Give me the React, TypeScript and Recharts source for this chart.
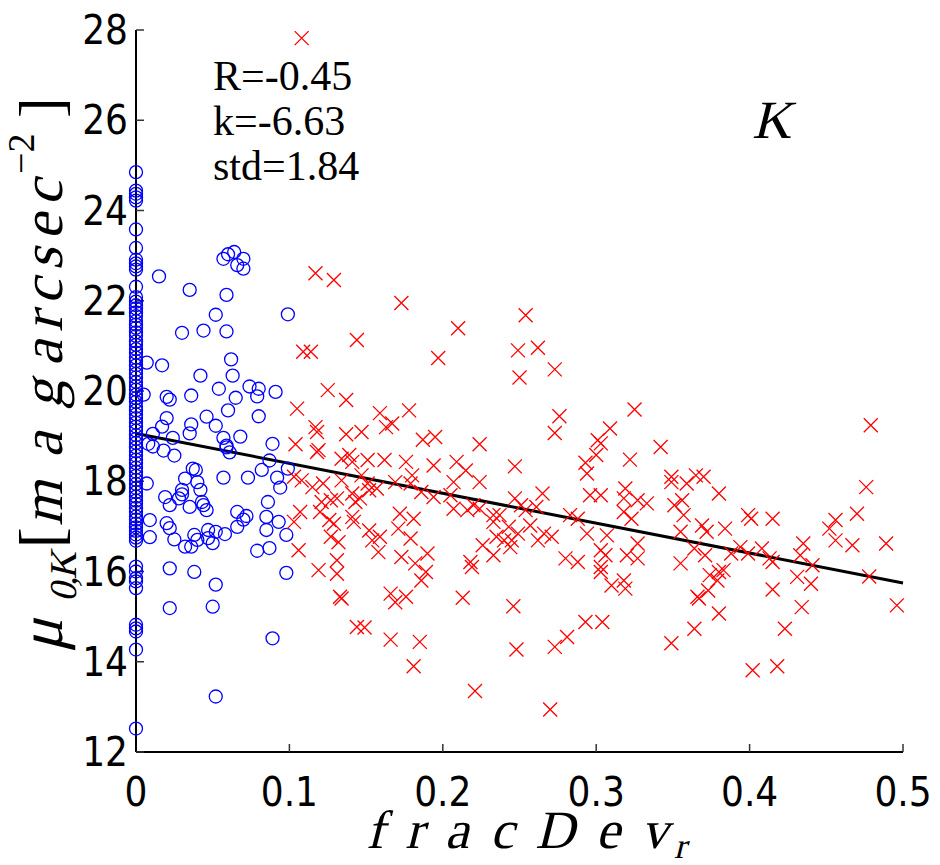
import { ScatterChart, Scatter, XAxis, YAxis, ReferenceLine } from 'recharts';

const xTicks = [0, 0.1, 0.2, 0.3, 0.4, 0.5];
const yTicks = [12, 14, 16, 18, 20, 22, 24, 26, 28];

// pure de Vaucouleurs fits: fracDev_r = 0
const bulgeColumn = [
  24.85, 24.44, 24.37, 24.29, 24.22, 23.58, 23.17, 22.91, 22.83, 22.76, 22.69, 22.31,
  22.08, 21.98, 21.9, 21.83, 21.74, 21.66, 21.55, 21.47, 21.4, 21.3, 21.22, 21.1, 21.02,
  20.93, 20.85, 20.74, 20.66, 20.57, 20.47, 20.38, 20.3, 20.2, 20.11, 20.03, 19.92, 19.84,
  19.76, 19.65, 19.57, 19.48, 19.4, 19.3, 19.21, 19.12, 19.02, 18.94, 18.85, 18.75, 18.66,
  18.57, 18.48, 18.4, 18.3, 18.21, 18.12, 18.03, 17.94, 17.85, 17.76, 17.66, 17.57, 17.5,
  17.41, 17.32, 17.22, 17.15, 17.06, 16.98, 16.9, 16.82, 16.75, 16.68, 16.11, 16.0, 15.85,
  15.78, 15.63, 14.82, 14.74, 14.67, 14.27, 12.52,
];

// fracDev_r < 0.1
const bulgeScatter: [number, number][] = [
  [0.015, 22.54], [0.035, 22.24], [0.059, 22.13], [0.057, 22.93], [0.06, 23.03], [0.064, 23.08],
  [0.066, 22.79], [0.07, 22.93], [0.07, 22.71], [0.052, 21.69], [0.099, 21.7], [0.03, 21.29],
  [0.044, 21.34], [0.059, 21.32], [0.007, 20.63], [0.017, 20.57], [0.062, 20.7], [0.042, 20.34],
  [0.063, 20.34], [0.005, 19.92], [0.02, 19.87], [0.022, 19.81], [0.036, 19.9], [0.054, 20.05],
  [0.065, 19.85], [0.074, 20.1], [0.08, 20.05], [0.079, 19.88], [0.091, 19.98], [0.06, 19.57],
  [0.02, 19.4], [0.046, 19.43], [0.08, 19.44], [0.017, 19.21], [0.036, 19.26], [0.052, 19.23],
  [0.035, 19.06], [0.011, 19.05], [0.024, 18.96], [0.057, 18.96], [0.068, 18.99], [0.008, 18.83],
  [0.059, 18.79], [0.089, 18.83], [0.011, 18.77], [0.018, 18.68], [0.025, 18.57], [0.059, 18.75],
  [0.061, 18.64], [0.037, 18.28], [0.039, 18.25], [0.057, 18.08], [0.073, 18.08], [0.082, 18.25],
  [0.087, 18.46], [0.092, 18.08], [0.094, 17.86], [0.099, 18.28], [0.007, 17.95], [0.032, 18.06],
  [0.03, 17.81], [0.04, 17.98], [0.042, 17.81], [0.019, 17.65], [0.022, 17.47], [0.028, 17.62],
  [0.03, 17.71], [0.035, 17.43], [0.043, 17.54], [0.044, 17.47], [0.046, 17.36], [0.086, 17.54],
  [0.066, 17.32], [0.072, 17.23], [0.07, 17.15], [0.009, 17.14], [0.02, 17.07], [0.022, 16.96],
  [0.085, 17.21], [0.093, 17.1], [0.066, 16.99], [0.085, 16.92], [0.098, 16.81], [0.025, 16.71],
  [0.009, 16.76], [0.038, 16.81], [0.047, 16.92], [0.052, 16.88], [0.058, 16.83], [0.04, 16.7],
  [0.047, 16.74], [0.05, 16.63], [0.032, 16.55], [0.036, 16.55], [0.079, 16.46], [0.087, 16.52],
  [0.022, 16.07], [0.038, 15.99], [0.052, 15.71], [0.098, 15.97], [0.022, 15.19], [0.05, 15.22],
  [0.089, 14.52], [0.052, 13.23],
];

// fracDev_r >= 0.1
const diskScatter: [number, number][] = [
  [0.108, 27.82],
  [0.117, 22.61], [0.129, 22.46], [0.173, 21.95], [0.21, 21.39], [0.144, 21.13], [0.109, 20.87],
  [0.114, 20.87], [0.197, 20.73], [0.125, 20.02], [0.137, 19.8], [0.105, 19.61], [0.159, 19.51],
  [0.178, 19.57], [0.117, 19.2], [0.118, 19.09], [0.137, 19.04], [0.147, 19.09], [0.163, 19.2],
  [0.167, 19.28], [0.187, 18.92], [0.195, 18.98], [0.224, 18.82], [0.104, 18.82], [0.119, 18.69],
  [0.118, 18.65], [0.134, 18.5], [0.139, 18.58], [0.141, 18.43], [0.151, 18.47], [0.162, 18.47],
  [0.176, 18.43], [0.194, 18.35], [0.209, 18.43], [0.215, 18.24], [0.224, 17.98], [0.103, 18.1],
  [0.108, 18.02], [0.115, 17.87], [0.122, 17.95], [0.134, 18.02], [0.147, 18.13], [0.151, 17.95],
  [0.157, 17.84], [0.169, 17.98], [0.18, 18.13], [0.179, 17.95], [0.186, 17.76], [0.194, 17.65],
  [0.207, 17.98], [0.205, 17.69], [0.22, 17.47], [0.207, 17.39], [0.216, 17.36], [0.224, 17.39],
  [0.233, 17.25], [0.107, 17.32], [0.121, 17.54], [0.127, 17.58], [0.131, 17.62], [0.141, 17.73],
  [0.143, 17.54], [0.146, 17.62], [0.152, 17.8], [0.103, 17.1], [0.12, 17.32], [0.126, 17.14],
  [0.129, 17.06], [0.141, 17.21], [0.142, 17.1], [0.152, 16.91], [0.159, 16.77], [0.172, 17.28],
  [0.181, 17.17], [0.171, 16.95], [0.179, 16.73], [0.127, 16.77], [0.132, 16.65], [0.154, 16.69],
  [0.158, 16.43], [0.106, 16.47], [0.173, 16.32], [0.182, 16.18], [0.19, 16.4], [0.189, 15.99],
  [0.186, 15.8], [0.218, 16.21], [0.219, 16.1], [0.226, 16.58], [0.233, 16.36], [0.119, 16.03],
  [0.131, 16.25], [0.131, 15.95], [0.133, 15.44], [0.134, 15.4], [0.166, 15.51], [0.169, 15.32],
  [0.176, 15.44], [0.213, 15.42], [0.144, 14.77], [0.149, 14.76], [0.166, 14.49], [0.185, 14.44],
  [0.181, 13.9], [0.221, 13.35],
  [0.254, 21.68], [0.249, 20.9], [0.262, 20.96], [0.273, 20.48], [0.25, 20.3], [0.276, 19.44],
  [0.273, 19.07], [0.325, 19.59], [0.309, 19.17], [0.301, 18.91], [0.303, 18.84], [0.342, 18.76],
  [0.3, 18.58], [0.322, 18.48], [0.247, 18.33], [0.293, 18.41], [0.294, 18.17], [0.349, 18.1],
  [0.365, 18.13],
  [0.349, 17.98], [0.359, 17.95], [0.247, 17.62], [0.251, 17.47], [0.265, 17.73], [0.261, 17.43],
  [0.296, 17.69], [0.303, 17.69], [0.319, 17.84], [0.318, 17.62], [0.327, 17.58], [0.333, 17.51],
  [0.351, 17.47], [0.356, 17.58], [0.237, 17.25], [0.254, 17.36], [0.257, 17.02], [0.233, 17.1],
  [0.243, 16.99], [0.283, 17.25], [0.288, 17.17], [0.318, 17.32], [0.323, 17.17], [0.357, 17.25],
  [0.235, 16.77], [0.24, 16.69], [0.245, 16.69], [0.249, 16.84], [0.266, 16.84], [0.271, 16.77],
  [0.294, 16.84], [0.307, 16.8], [0.327, 16.62], [0.355, 16.88], [0.244, 16.54], [0.262, 16.69],
  [0.28, 16.29], [0.288, 16.21], [0.303, 16.47], [0.306, 16.36], [0.303, 16.1], [0.32, 16.36],
  [0.327, 16.29], [0.303, 15.99], [0.31, 15.69], [0.318, 15.8], [0.319, 15.62], [0.355, 16.18],
  [0.366, 15.44], [0.246, 15.23], [0.293, 14.88], [0.304, 14.88], [0.281, 14.55], [0.273, 14.33],
  [0.248, 14.27], [0.349, 14.41], [0.27, 12.94],
  [0.479, 19.24], [0.476, 17.87], [0.47, 17.28], [0.37, 18.1], [0.38, 17.73], [0.399, 17.25],
  [0.401, 17.17], [0.415, 17.17], [0.369, 17.02], [0.372, 16.88], [0.384, 16.95], [0.456, 17.14],
  [0.452, 16.95], [0.456, 16.69], [0.467, 16.58], [0.489, 16.62], [0.435, 16.62], [0.433, 16.36],
  [0.441, 16.14], [0.364, 16.51], [0.371, 16.36], [0.388, 16.4], [0.394, 16.54], [0.399, 16.4],
  [0.408, 16.51], [0.415, 16.21], [0.413, 16.29], [0.374, 15.92], [0.38, 15.99], [0.383, 16.03],
  [0.379, 15.8], [0.431, 15.88], [0.44, 15.73], [0.478, 15.89], [0.373, 15.58], [0.367, 15.4],
  [0.415, 15.6], [0.496, 15.25], [0.38, 15.07], [0.434, 15.21], [0.364, 14.73], [0.423, 14.73],
  [0.402, 13.81], [0.418, 13.9],
];

// least-squares fit, slope k
const fitIntercept = 19.06;
const fitSlope = -6.63;

const blueData = [
  ...bulgeColumn.map((mu) => ({ x: 0, y: mu })),
  ...bulgeScatter.map(([x, y]) => ({ x, y })),
];
const redData = diskScatter.map(([x, y]) => ({ x, y }));

const tickFont = '"Liberation Sans Narrow", "DejaVu Sans Condensed", "Liberation Sans", sans-serif';
const mathFont = '"Liberation Serif", "DejaVu Serif", serif';
const slant = 'skewX(-14)';

const Ring = ({ cx, cy }: any) => (
  <circle cx={cx} cy={cy} r={6.5} fill="none" stroke="#0000ff" strokeWidth={1.3} />
);

const XMark = ({ cx, cy }: any) => {
  const s = 7;
  return (
    <path
      d={`M${cx - s},${cy - s}L${cx + s},${cy + s}M${cx - s},${cy + s}L${cx + s},${cy - s}`}
      fill="none"
      stroke="#ff0000"
      strokeWidth={1.3}
    />
  );
};

const XTick = ({ x, y, payload }: any) => (
  <text x={x} y={y + 54} textAnchor="middle" fontFamily={tickFont} fontSize={40} fill="#000">
    {String(payload.value)}
  </text>
);

const YTick = ({ x, y, payload }: any) => (
  <text x={x} y={y + 14} textAnchor="end" fontFamily={tickFont} fontSize={40} fill="#000">
    {String(payload.value)}
  </text>
);

// math-italic text: upright serif with a slant, placed at (x, y)
const Slanted = ({ x, y, size, children, len }: any) => (
  <g transform={`translate(${x},${y}) ${slant}`}>
    <text x={0} y={0} fontSize={size} textLength={len} lengthAdjust={len ? 'spacing' : undefined}>
      {children}
    </text>
  </g>
);

export default function App() {
  return (
    <div style={{ position: 'absolute', left: 0, top: 0, width: 940, height: 865, background: '#fff' }}>
      <ScatterChart width={940} height={865} margin={{ top: 30, right: 37, bottom: 0, left: 0 }}>
        <XAxis
          type="number"
          dataKey="x"
          domain={[0, 0.5]}
          ticks={xTicks}
          height={113}
          tickSize={-8}
          tickMargin={8}
          tick={<XTick />}
          axisLine={{ stroke: '#000', strokeWidth: 2 }}
          tickLine={{ stroke: '#333', strokeWidth: 1.5 }}
        />
        <XAxis
          xAxisId="top"
          orientation="top"
          type="number"
          dataKey="x"
          domain={[0, 0.5]}
          ticks={xTicks}
          height={0}
          tickSize={-8}
          tick={false}
          axisLine={{ stroke: '#000', strokeWidth: 2 }}
          tickLine={{ stroke: '#333', strokeWidth: 1.5 }}
        />
        <YAxis
          type="number"
          dataKey="y"
          domain={[12, 28]}
          ticks={yTicks}
          width={136}
          tickSize={-8}
          tickMargin={16}
          tick={<YTick />}
          axisLine={{ stroke: '#000', strokeWidth: 2 }}
          tickLine={{ stroke: '#333', strokeWidth: 1.5 }}
        />
        <YAxis
          yAxisId="right"
          orientation="right"
          type="number"
          dataKey="y"
          domain={[12, 28]}
          ticks={yTicks}
          width={0}
          tickSize={-8}
          tick={false}
          axisLine={{ stroke: '#000', strokeWidth: 2 }}
          tickLine={{ stroke: '#333', strokeWidth: 1.5 }}
        />
        <Scatter data={blueData} shape={<Ring />} isAnimationActive={false} />
        <Scatter data={redData} shape={<XMark />} isAnimationActive={false} />
        <ReferenceLine
          segment={[
            { x: 0, y: fitIntercept },
            { x: 0.5, y: fitIntercept + fitSlope * 0.5 },
          ]}
          stroke="#000"
          strokeWidth={3}
        />
      </ScatterChart>
      <svg
        width={940}
        height={865}
        style={{ position: 'absolute', left: 0, top: 0, pointerEvents: 'none' }}
      >
        <g fontFamily={mathFont} fill="#000">
          <text x={213} y={90} fontSize={42}>R=-0.45</text>
          <text x={213} y={135} fontSize={42}>k=-6.63</text>
          <text x={213} y={180} fontSize={42}>std=1.84</text>
          <Slanted x={752} y={138} size={54}>K</Slanted>

          {/* x axis title */}
          <Slanted x={366} y={848} size={54} len={302}>fracDev</Slanted>
          <Slanted x={674} y={858} size={36}>r</Slanted>

          {/* y axis title, reading upwards */}
          <g transform="translate(62, 652) rotate(-90)">
            <Slanted x={0} y={0} size={62}>μ</Slanted>
            <Slanted x={50} y={14} size={38} len={50}>0,K</Slanted>
            <text x={104} y={0} fontSize={62}>[</text>
            <Slanted x={126} y={0} size={58} len={146}>mag</Slanted>
            <Slanted x={286} y={0} size={58} len={186}>arcsec</Slanted>
            <text x={478} y={-28} fontSize={38}>−2</text>
            <text x={534} y={0} fontSize={62}>]</text>
          </g>
        </g>
      </svg>
    </div>
  );
}
